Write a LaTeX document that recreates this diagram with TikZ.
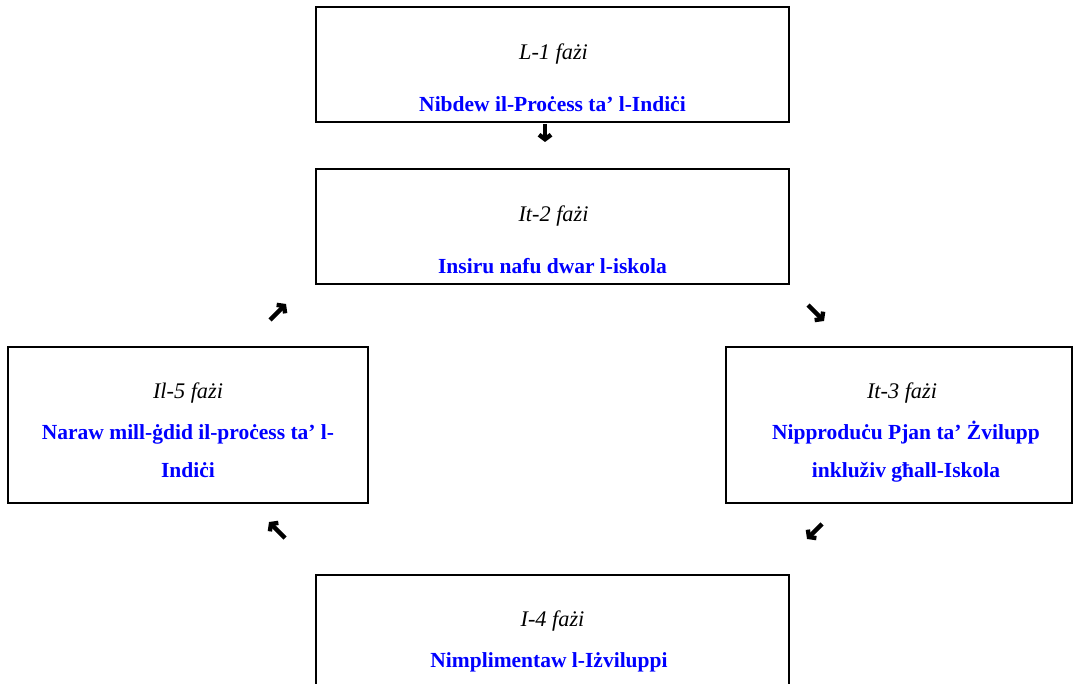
\documentclass[tikz,border=0pt]{standalone}
\usepackage{fontspec}
\setmainfont{Liberation Serif}
\usetikzlibrary{arrows.meta}
\definecolor{phaseblue}{RGB}{0,0,255}
\begin{document}
\begin{tikzpicture}[x=1pt,y=-1pt,
  box/.style={draw=black, line width=2.5pt, inner sep=0pt},
  phase/.style={font=\fontsize{22.3}{26}\selectfont\itshape, inner sep=0pt, anchor=base},
  title/.style={font=\fontsize{21.5}{26}\selectfont\bfseries, text=phaseblue, inner sep=0pt, anchor=base},
  flow/.style={line width=4.4pt, -{Straight Barb[length=4.5pt,width=12pt]}}]
\useasboundingbox (0,0) rectangle (1074,684);
% boxes
\node[box, minimum width=473pt, minimum height=115pt] (b1) at (552.5,64.5) {};
\node[box, minimum width=473pt, minimum height=115pt] (b2) at (552.5,226.5) {};
\node[box, minimum width=346pt, minimum height=156pt] (b3) at (899,425) {};
\node[box, minimum width=473pt, minimum height=125pt] (b4) at (552.5,637.5) {};
\node[box, minimum width=360pt, minimum height=156pt] (b5) at (188,425) {};
% texts
\node[phase] (p1) at (553.5,60) {L-1 fażi};
\node[title] (t1) at (552.5,112) {Nibdew il-Proċess ta’ l-Indiċi};
\node[phase] (p2) at (553.5,222) {It-2 fażi};
\node[title] (t2) at (552.5,274) {Insiru nafu dwar l-iskola};
\node[phase] (p3) at (902,399) {It-3 fażi};
\node[title] (t3a) at (906,440) {Nipproduċu Pjan ta’ Żvilupp};
\node[title] (t3b) at (906,478) {inkluživ għall-Iskola};
\node[phase] (p4) at (552.5,626) {I-4 fażi};
\node[title] (t4) at (549,667) {Nimplimentaw l-Iżviluppi};
\node[phase] (p5) at (188,399) {Il-5 fażi};
\node[title] (t5a) at (188,440) {Naraw mill-ġdid il-proċess ta’ l-};
\node[title] (t5b) at (188,478) {Indiċi};
% arrow coordinates
\coordinate (a1s) at (545,124);
\coordinate (a1e) at (545,142);
\coordinate (a2s) at (808,305);
\coordinate (a2e) at (824,321);
\coordinate (a3s) at (822,524);
\coordinate (a3e) at (807,539);
\coordinate (a4s) at (285,538);
\coordinate (a4e) at (269,522);
\coordinate (a5s) at (270,320);
\coordinate (a5e) at (286,304);
\draw[flow] (a1s) -- (a1e);
\draw[flow] (a2s) -- (a2e);
\draw[flow] (a3s) -- (a3e);
\draw[flow] (a4s) -- (a4e);
\draw[flow] (a5s) -- (a5e);
\end{tikzpicture}
\end{document}
